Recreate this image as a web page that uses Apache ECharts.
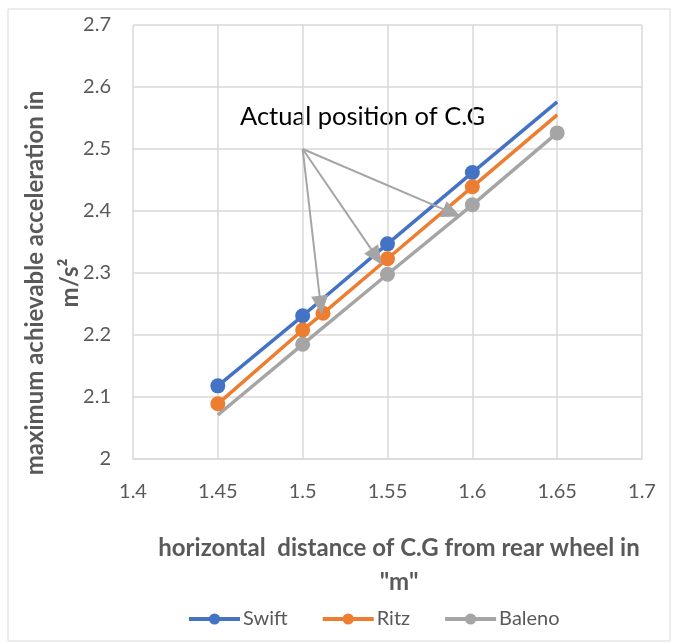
<!DOCTYPE html>
<html><head><meta charset="utf-8">
<script src="https://cdn.jsdelivr.net/npm/echarts@6/dist/echarts.min.js"></script>
<style>html,body{margin:0;padding:0;background:#fff}#c{width:678px;height:644px}</style>
</head><body><div id="c"></div>
<script>
// Data
const swiftX = [1.45, 1.5, 1.55, 1.6, 1.65];
const swiftY = [2.118, 2.231, 2.347, 2.462, 2.576];
const swiftMarker = [true, true, true, true, false];
const ritzX = [1.45, 1.5, 1.512, 1.55, 1.6, 1.65];
const ritzY = [2.089, 2.208, 2.235, 2.323, 2.439, 2.555];
const ritzMarker = [true, true, true, true, true, false];
const balenoX = [1.45, 1.5, 1.55, 1.6, 1.65];
const balenoY = [2.071, 2.185, 2.298, 2.41, 2.526];
const balenoMarker = [false, true, true, true, true];
// annotation arrows: from label anchor to actual C.G positions
const arrowFrom = [1.5, 2.5];
const arrowTipsX = [1.5106, 1.5435, 1.588];
const arrowTipsY = [2.248, 2.326, 2.397];
const annotationText = 'Actual position of C.G';
const xAxisTitle = 'horizontal  distance of C.G from rear wheel in\n"m"';
const yAxisTitle = 'maximum achievable acceleration in\nm/s²';
const xTicks = {min: 1.4, max: 1.7, interval: 0.05};
const yTicks = {min: 2, max: 2.7, interval: 0.1};

const FONT = 'Lato';
function build(xs, ys, marks) {
  return xs.map((x, i) => marks[i] ? [x, ys[i]] : {value: [x, ys[i]], symbol: 'none'});
}
const chart = echarts.init(document.getElementById('c'), null, {renderer: 'canvas'});
const arrowLines = arrowTipsX.map((x, i) => [
  {coord: arrowFrom, symbol: 'none'},
  {coord: [x, arrowTipsY[i]], symbol: 'triangle'}
]);
const mk = (name, color, data, extra) => Object.assign({
  name, type: 'line', data, color,
  symbol: 'circle', symbolSize: 15,
  lineStyle: {width: 3.5, color},
  itemStyle: {color},
  emphasis: {disabled: true},
  animation: false
}, extra || {});
chart.setOption({
  animation: false,
  grid: {left: 133, right: 36, top: 25, bottom: 185, containLabel: false, outerBoundsMode: 'none'},
  graphic: [
    {type: 'rect', shape: {x: 8, y: 9, width: 662, height: 632}, style: {fill: 'none', stroke: '#d9d9d9', lineWidth: 1}, silent: true, z: -1},
    {type: 'text', x: 240, y: 117, style: {text: annotationText, fontFamily: FONT, fontSize: 25.5, fill: '#000', verticalAlign: 'middle'}},
    {type: 'text', x: 399, y: 565, style: {text: xAxisTitle, fontFamily: FONT, fontSize: 24, fontWeight: 'bold', fill: '#595959', align: 'center', verticalAlign: 'middle', lineHeight: 34}},
    {type: 'text', x: 53, y: 283, rotation: Math.PI / 2, style: {text: yAxisTitle, fontFamily: FONT, fontSize: 24, fontWeight: 'bold', fill: '#595959', align: 'center', verticalAlign: 'middle', lineHeight: 35}}
  ],
  xAxis: {
    type: 'value', min: xTicks.min, max: xTicks.max, interval: xTicks.interval,
    axisLine: {show: true, lineStyle: {color: '#d9d9d9', width: 1.5}},
    axisTick: {show: false},
    splitLine: {show: true, lineStyle: {color: '#d9d9d9', width: 1.5}},
    axisLabel: {color: '#595959', fontFamily: FONT, fontSize: 20, margin: 23}
  },
  yAxis: {
    type: 'value', min: yTicks.min, max: yTicks.max, interval: yTicks.interval,
    axisLine: {show: false},
    axisTick: {show: false},
    splitLine: {show: true, lineStyle: {color: '#d9d9d9', width: 1.5}},
    axisLabel: {color: '#595959', fontFamily: FONT, fontSize: 20, margin: 22}
  },
  legend: {
    top: 604, left: 182, itemWidth: 51, itemHeight: 14, itemGap: 33,
    lineStyle: {width: 4},
    textStyle: {color: '#595959', fontFamily: FONT, fontSize: 20, padding: [0, 0, 0, -2]},
    data: ['Swift', 'Ritz', 'Baleno']
  },
  series: [
    mk('Swift', '#4472c4', build(swiftX, swiftY, swiftMarker)),
    mk('Ritz', '#ed7d31', build(ritzX, ritzY, ritzMarker)),
    mk('Baleno', '#a5a5a5', build(balenoX, balenoY, balenoMarker), {
      markLine: {
        silent: true, symbolSize: [17, 19],
        lineStyle: {color: '#a5a5a5', width: 2, type: 'solid'},
        label: {show: false},
        data: arrowLines, animation: false
      }
    })
  ]
});
</script></body></html>
